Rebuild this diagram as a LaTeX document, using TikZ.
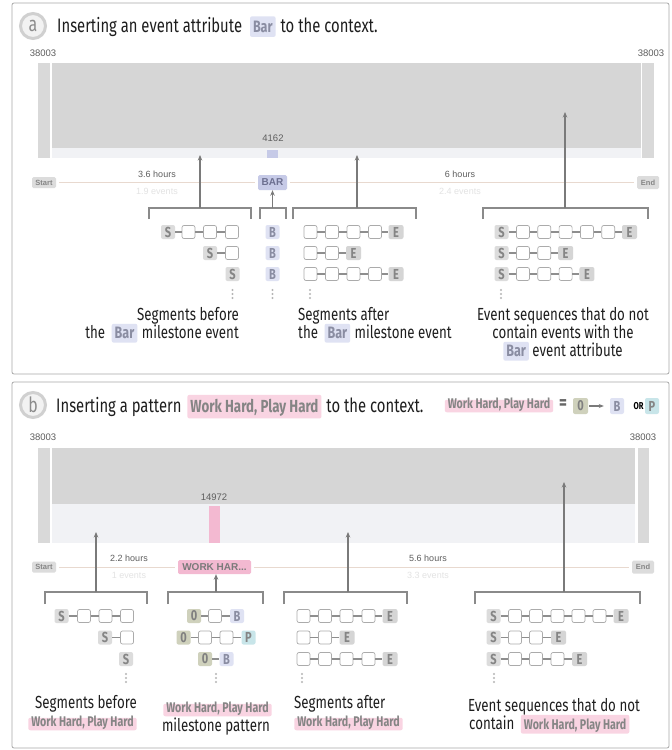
\documentclass[tikz,border=0pt]{standalone}
\usepackage{fontspec}
\setmainfont{Fira Sans}[FakeStretch=0.76]
\newfontfamily\numfont{Liberation Sans}
\usetikzlibrary{arrows.meta}
\definecolor{panelc}{HTML}{A8A8A8}
\definecolor{maing}{HTML}{D6D6D6}
\definecolor{sideg}{HTML}{D9D9D9}
\definecolor{stripc}{HTML}{F1F2F5}
\definecolor{tlc}{HTML}{E8D9CF}
\definecolor{arrc}{HTML}{7A7A7A}
\definecolor{brkc}{HTML}{8A8A8A}
\definecolor{boxd}{HTML}{ABABAB}
\definecolor{linkc}{HTML}{8E8E8E}
\definecolor{dotc}{HTML}{B5B5B5}
\definecolor{chiptxt}{HTML}{858585}
\definecolor{sg}{HTML}{DCDCDC}
\definecolor{eg}{HTML}{D5D5D5}
\definecolor{bb}{HTML}{DFE2F3}
\definecolor{btxt}{HTML}{8A8DA2}
\definecolor{bartxt}{HTML}{6C6F90}
\definecolor{olv}{HTML}{CFD1BC}
\definecolor{tea}{HTML}{C8E5E9}
\definecolor{pnk}{HTML}{F9D4E2}
\definecolor{pnkbar}{HTML}{F3B9D1}
\definecolor{barblue}{HTML}{C6CAE7}
\definecolor{numc}{HTML}{5E5E5E}
\definecolor{evc}{HTML}{E3E3E3}
\definecolor{txt}{HTML}{1E1E1E}
\definecolor{badgec}{HTML}{D0D0D0}

\newcommand\ichip[3][]{\tikz[baseline=(X.base)]\node[ichipst,fill=#2,#1] (X) {#3};}
\newcommand\seqrow[3]{%
  \foreach \xx/\st/\tx [count=\i, remember=\i as \j (initially 0)] in {#3} {%
    \edef\mkn{\noexpand\node[\st] (#1-\i) at (\xx,#2) {\tx};}\mkn
    \ifnum\i>1 \draw[link] (#1-\j) -- (#1-\i);\fi
  }%
}
\newcommand\vdotsat[2]{\foreach \d in {-4,0,4}{\fill[dotc] (#1,#2+\d) circle (1.1pt);}}

\begin{document}
\begin{tikzpicture}[x=1pt,y=-1pt,
  panel/.style={draw=panelc, line width=0.8pt, rounded corners=2pt},
  badge/.style={circle, draw=badgec, line width=3pt, fill=white!95!black, minimum size=25pt, inner sep=0pt, text=black!45, font=\fontsize{21}{22}\selectfont},
  title/.style={anchor=base west, inner sep=0pt, text=txt, font=\fontsize{19.5}{22}\selectfont},
  lbl/.style={inner sep=0pt, text=txt, font=\fontsize{17.5}{18}\selectfont},
  num/.style={inner sep=0pt, text=numc, font=\numfont\fontsize{9.5}{10}\selectfont},
  hrs/.style={inner sep=0pt, text=numc, font=\numfont\fontsize{9}{10}\selectfont},
  evt/.style={inner sep=0pt, text=evc, font=\numfont\fontsize{9}{10}\selectfont},
  tchip/.style={rounded corners=1.5pt, inner sep=0pt, text=black!48, font=\numfont\bfseries\fontsize{7.5}{8}\selectfont},
  ichipst/.style={rounded corners=2pt, inner xsep=3pt, inner ysep=2pt, text=chiptxt, text height=0.7em, text depth=0.15em, font=\bfseries},
  bx/.style={draw=boxd, fill=white, rounded corners=2pt, minimum width=13pt, minimum height=13pt, inner sep=0pt, line width=0.7pt},
  chipbase/.style={rounded corners=2pt, minimum width=14pt, minimum height=14pt, inner sep=0pt, text=chiptxt, font=\fontsize{14.5}{15}\selectfont\bfseries},
  cS/.style={chipbase, fill=sg},
  cE/.style={chipbase, fill=eg, minimum width=15pt},
  cB/.style={chipbase, fill=bb, text=btxt},
  cO/.style={chipbase, fill=olv, text=black!50},
  cP/.style={chipbase, fill=tea, text=black!48},
  link/.style={draw=linkc, line width=1.1pt},
  tl/.style={draw=tlc, line width=1pt, shorten <=3pt, shorten >=3pt},
  arr/.style={draw=arrc, line width=1.3pt, -{Stealth[length=5.5pt,width=4.5pt]}},
  brk/.style={draw=brkc, line width=1.3pt},
  pchip/.style={ichipst, fill=pnk, font=\fontsize{14}{14}\selectfont\bfseries},
  bchipf/.style={font=\fontsize{16.5}{17}\selectfont\bfseries, text=btxt}
]
\useasboundingbox (0,0) rectangle (672,750);
\fill[white] (0,0) rectangle (672,750);

%%%%%%%%%%%%%%%% PANEL A
\draw[panel] (12,3) rectangle (669,374);
\node[badge] (bdA) at (33,26) {a};
\node[title] (tA) at (57,32) {Inserting an event attribute\hspace{4pt} \ichip[bchipf]{bb}{Bar}\hspace{1pt} to the context.};

\node[num] (nA1) at (43,53) {38003};
\node[num] (nA2) at (651,53) {38003};
\fill[sideg] (38,63) rectangle (50,158);
\fill[maing] (52,63) rectangle (641,148);
\fill[stripc] (52,148) rectangle (641,158);
\fill[sideg] (642,63) rectangle (654,158);
\node[num] (nA3) at (273,138) {4162};
\fill[barblue] (267,150) rectangle (278,158);

\node[tchip, fill=sg, minimum width=24pt, minimum height=11pt] (sA) at (44,182.5) {Start};
\node[tchip, fill=barblue, minimum width=29pt, minimum height=15pt, text=bartxt, font=\numfont\bfseries\fontsize{10}{10}\selectfont] (BAR) at (272.5,182.5) {BAR};
\node[tchip, fill=sg, minimum width=22pt, minimum height=13pt] (eA) at (648,182.5) {End};
\draw[tl] (sA) -- (BAR);
\draw[tl] (BAR) -- (eA);
\node[hrs] (hA1) at (157,174) {3.6 hours};
\node[evt] (vA1) at (157,191) {1.9 events};
\node[hrs] (hA2) at (460,174) {6 hours};
\node[evt] (vA2) at (460,191) {2.4 events};

% brackets
\draw[brk] (149,219) -- (149,208) -- (251,208) -- (251,219);
\draw[brk] (260,219) -- (260,208) -- (286,208) -- (286,219);
\draw[brk] (293,219) -- (293,208) -- (416,208) -- (416,219);
\draw[brk] (483,219) -- (483,208) -- (648,208) -- (648,219);
\coordinate (aa1) at (200,208); \coordinate (ta1) at (200,155);
\coordinate (aa2) at (272.5,208);
\coordinate (aa3) at (357,208); \coordinate (ta3) at (357,155);
\coordinate (aa4) at (565,208); \coordinate (ta4) at (565,112);
\draw[arr] (aa1) -- (ta1);
\draw[arr] (aa2) -- (BAR.south);
\draw[arr] (aa3) -- (ta3);
\draw[arr] (aa4) -- (ta4);

% sequences
\seqrow{aL1}{232}{168/cS/S, 188.5/bx/, 210/bx/, 232/bx/}
\seqrow{aL2}{253}{210/cS/S, 232/bx/}
\seqrow{aL3}{274}{232.5/cS/S}
\seqrow{aB1}{232}{272.5/cB/B}
\seqrow{aB2}{253}{272.5/cB/B}
\seqrow{aB3}{274}{272.5/cB/B}
\seqrow{aA1}{232}{310.5/bx/, 332/bx/, 353.5/bx/, 375/bx/, 396/cE/E}
\seqrow{aA2}{253}{310.5/bx/, 332/bx/, 353.5/cE/E}
\seqrow{aA3}{274}{310.5/bx/, 332/bx/, 353.5/bx/, 375/bx/, 396/cE/E}
\seqrow{aN1}{232}{501.5/cS/S, 523/bx/, 544.3/bx/, 565.6/bx/, 586.9/bx/, 608.2/bx/, 629.5/cE/E}
\seqrow{aN2}{253}{501.5/cS/S, 523/bx/, 544.3/bx/, 565.6/cE/E}
\seqrow{aN3}{274}{501.5/cS/S, 523/bx/, 544.3/bx/, 565.6/bx/, 586.9/cE/E}
\vdotsat{232.5}{294}
\vdotsat{272.5}{294}
\vdotsat{310}{294}
\vdotsat{501}{294}

% labels
\node[lbl, anchor=base east] (lA1) at (239,320) {Segments before};
\node[lbl, anchor=base east] (lA2) at (239,338) {the\hspace{3pt} \ichip[bchipf]{bb}{Bar}\hspace{1pt} milestone event};
\node[lbl, anchor=base west] (lA3) at (298,320) {Segments after};
\node[lbl, anchor=base west] (lA4) at (298,338) {the\hspace{3pt} \ichip[bchipf]{bb}{Bar}\hspace{1pt} milestone event};
\node[lbl, anchor=base] (lA5) at (563,320) {Event sequences that do not};
\node[lbl, anchor=base] (lA6) at (563,338) {contain events with the};
\node[lbl, anchor=base] (lA7) at (563,356) {\ichip[bchipf]{bb}{Bar} event attribute};

%%%%%%%%%%%%%%%% PANEL B
\draw[panel] (12,382) rectangle (669,748);
\node[badge] (bdB) at (33,405) {b};
\node[title] (tB) at (56,412) {Inserting a pattern\hspace{2pt} \ichip[font=\fontsize{17.5}{18}\selectfont\bfseries, inner ysep=3.5pt]{pnk}{Work Hard, Play Hard}\hspace{1pt} to the context.};

% legend
\node[ichipst, fill=pnk, font=\fontsize{14}{14}\selectfont\bfseries] (lg) at (499,406) {Work Hard, Play Hard};
\node[inner sep=0pt, text=black!60, font=\fontsize{20}{20}\selectfont\bfseries] (eq) at (563,405) {=};
\node[cO, minimum width=15pt, minimum height=16pt] (l0) at (580.5,406) {0};
\node[cB, minimum width=14pt, minimum height=16pt] (lB) at (617,406) {B};
\node[inner sep=0pt, text=black, font=\fontsize{10}{10}\selectfont\bfseries] (lor) at (638.5,406.5) {OR};
\node[cP, minimum width=14pt, minimum height=16pt] (lP) at (652,406) {P};
\draw[draw=arrc, line width=1.2pt, -{Stealth[length=5pt,width=4pt]}, shorten <=1pt, shorten >=6pt] (l0) -- (lB);

\node[num] (nB1) at (43,437) {38003};
\node[num] (nB2) at (643,437) {38003};
\fill[sideg] (38,448) rectangle (50,543);
\fill[maing] (52,448) rectangle (635,504);
\fill[stripc] (52,504) rectangle (635,543);
\fill[sideg] (638,448) rectangle (649,543);
\node[num] (nB3) at (214,497) {14972};
\fill[pnkbar] (209,506) rectangle (220,543);

\node[tchip, fill=sg, minimum width=24pt, minimum height=11pt] (sB) at (44,567) {Start};
\node[tchip, fill=pnkbar, minimum width=73pt, minimum height=14pt, text=black!52, font=\numfont\bfseries\fontsize{10}{10}\selectfont] (WH) at (214.5,567) {WORK HAR...};
\node[tchip, fill=sg, minimum width=22pt, minimum height=13pt] (eB) at (643,567) {End};
\draw[tl] (sB) -- (WH);
\draw[tl] (WH) -- (eB);
\node[hrs] (hB1) at (129,558) {2.2 hours};
\node[evt] (vB1) at (129,575) {1 events};
\node[hrs] (hB2) at (428,558) {5.6 hours};
\node[evt] (vB2) at (428,575) {3.3 events};

\draw[brk] (45,604) -- (45,592) -- (147,592) -- (147,604);
\draw[brk] (168,604) -- (168,592) -- (263,592) -- (263,604);
\draw[brk] (284,604) -- (284,592) -- (407,592) -- (407,604);
\draw[brk] (475,604) -- (475,592) -- (640,592) -- (640,604);
\coordinate (ba1) at (96,592); \coordinate (tb1) at (96,532);
\coordinate (ba2) at (216,592);
\coordinate (ba3) at (348,592); \coordinate (tb3) at (348,532);
\coordinate (ba4) at (564,592); \coordinate (tb4) at (564,482);
\draw[arr] (ba1) -- (tb1);
\draw[arr] (ba2) -- (WH.south -| ba2);
\draw[arr] (ba3) -- (tb3);
\draw[arr] (ba4) -- (tb4);

\seqrow{bL1}{616}{61.5/cS/S, 84/bx/, 105.5/bx/, 127/bx/}
\seqrow{bL2}{637.5}{105/cS/S, 127/bx/}
\seqrow{bL3}{659}{126/cS/S}
\seqrow{bM1}{616}{194/cO/0, 215/bx/, 237/cB/B}
\seqrow{bM2}{637.5}{183.5/cO/0, 205/bx/, 226.5/bx/, 248.5/cP/P}
\seqrow{bM3}{659}{205/cO/0, 226.5/cB/B}
\seqrow{bA1}{616}{303.5/bx/, 325/bx/, 346.5/bx/, 368.5/bx/, 390/cE/E}
\seqrow{bA2}{637.5}{303.5/bx/, 325/bx/, 347/cE/E}
\seqrow{bA3}{659}{303.5/bx/, 325/bx/, 346.5/bx/, 368.5/bx/, 390/cE/E}
\seqrow{bN1}{616}{493.5/cS/S, 515/bx/, 536/bx/, 557.5/bx/, 578.5/bx/, 599.5/bx/, 621/cE/E}
\seqrow{bN2}{637.5}{493.5/cS/S, 515/bx/, 536/bx/, 558.5/cE/E}
\seqrow{bN3}{659}{493.5/cS/S, 515/bx/, 536/bx/, 557.5/bx/, 579.5/cE/E}
\vdotsat{126}{678}
\vdotsat{216}{678}
\vdotsat{302}{678}
\vdotsat{494}{678}

\node[lbl, anchor=base] (lB1) at (86,708) {Segments before};
\node[pchip] (lB2) at (82.5,724) {Work Hard, Play Hard};
\node[pchip] (lB3) at (217.5,710) {Work Hard, Play Hard};
\node[lbl, anchor=base] (lB4) at (216,731) {milestone pattern};
\node[lbl, anchor=base west] (lB5) at (294,708) {Segments after};
\node[pchip] (lB6) at (348.5,724) {Work Hard, Play Hard};
\node[lbl, anchor=base] (lB7) at (554,711) {Event sequences that do not};
\node[lbl, anchor=base west] (lB8) at (469,729) {contain\hspace{3pt} \ichip[font=\fontsize{14}{14}\selectfont\bfseries]{pnk}{Work Hard, Play Hard}};
\end{tikzpicture}
\end{document}
